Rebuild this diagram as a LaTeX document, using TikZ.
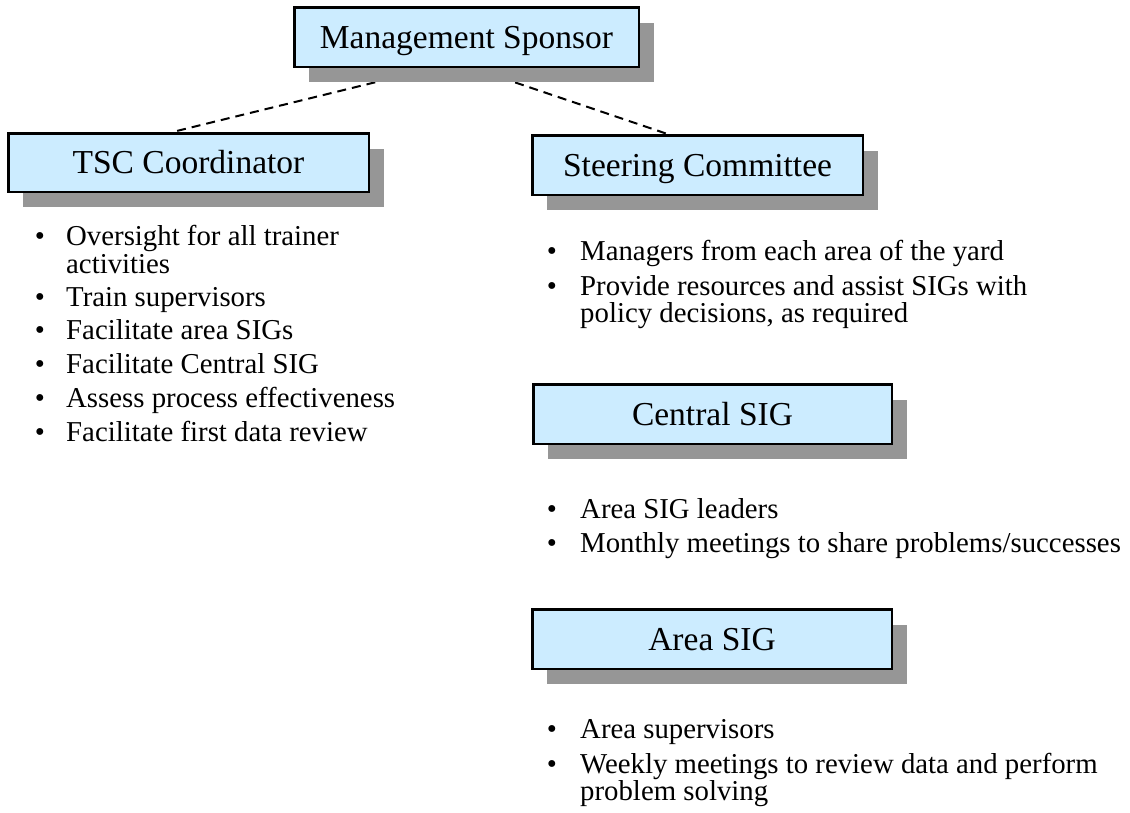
\documentclass[tikz,border=0pt]{standalone}
\usepackage{fontspec}
\setmainfont{Liberation Serif}
\usetikzlibrary{calc,shadows,backgrounds}
\definecolor{boxfill}{HTML}{CCECFF}
\definecolor{shadowgray}{HTML}{969696}
\begin{document}
\begin{tikzpicture}[x=1pt,y=-1pt,
  unitbox/.style={draw=black, line width=2.5pt, fill=boxfill, inner sep=0pt,
    font=\fontsize{33.5}{40}\selectfont, text height=22.2pt, text depth=0pt,
    drop shadow={shadow xshift=15pt, shadow yshift=-15.5pt, fill=shadowgray, opacity=1}},
  link/.style={line width=2pt, dash pattern=on 9pt off 6pt},
  dot/.style={anchor=base, inner sep=0pt, font=\fontsize{28.8}{28}\selectfont},
  itemtext/.style={anchor=base west, inner sep=0pt, font=\fontsize{28.8}{28}\selectfont}]
\useasboundingbox (0,0) rectangle (1130,812);

% organisation units
\node[unitbox, minimum width=344.5pt, minimum height=59.5pt] (ms) at (466.5,37) {Management Sponsor};
\node[unitbox, minimum width=360.5pt, minimum height=58.5pt] (tsc) at (188.5,162.5) {TSC Coordinator};
\node[unitbox, minimum width=330.5pt, minimum height=59.5pt] (sc) at (697.5,165) {Steering Committee};
\node[unitbox, minimum width=358.5pt, minimum height=59.5pt] (cs) at (712.5,414) {Central SIG};
\node[unitbox, minimum width=359.5pt, minimum height=59.5pt] (as) at (712,639) {Area SIG};

% reporting lines, kept behind boxes and shadows
\begin{scope}[on background layer]
  \draw[link] ($(ms.south)+(-33,0)$) -- ($(tsc.north)+(-16,0)$);
  \draw[link] ($(ms.south)+(6,0)$) -- ($(sc.north)+(-30,0)$);
\end{scope}

% TSC Coordinator duties
\node[dot] (tb1) at (40,245) {•};
\node[itemtext] (tt1) at (66,245) {Oversight for all trainer};
\node[itemtext] (tt1b) at (66,273) {activities};
\node[dot] (tb2) at (40,306) {•};
\node[itemtext] (tt2) at (66,306) {Train supervisors};
\node[dot] (tb3) at (40,339) {•};
\node[itemtext] (tt3) at (66,339) {Facilitate area SIGs};
\node[dot] (tb4) at (40,373) {•};
\node[itemtext] (tt4) at (66,373) {Facilitate Central SIG};
\node[dot] (tb5) at (40,407) {•};
\node[itemtext] (tt5) at (66,407) {Assess process effectiveness};
\node[dot] (tb6) at (40,441) {•};
\node[itemtext] (tt6) at (66,441) {Facilitate first data review};

% Steering Committee
\node[dot] (sb1) at (552,260) {•};
\node[itemtext] (st1) at (580,260) {Managers from each area of the yard};
\node[dot] (sb2) at (552,295) {•};
\node[itemtext] (st2) at (580,295) {Provide resources and assist SIGs with};
\node[itemtext] (st2b) at (580,322) {policy decisions, as required};

% Central SIG
\node[dot] (cb1) at (552,518) {•};
\node[itemtext] (ct1) at (580,518) {Area SIG leaders};
\node[dot] (cb2) at (552,552) {•};
\node[itemtext] (ct2) at (580,552) {Monthly meetings to share problems/successes};

% Area SIG
\node[dot] (ab1) at (552,738) {•};
\node[itemtext] (at1) at (580,738) {Area supervisors};
\node[dot] (ab2) at (552,773) {•};
\node[itemtext] (at2) at (580,773) {Weekly meetings to review data and perform};
\node[itemtext] (at2b) at (580,800) {problem solving};
\end{tikzpicture}
\end{document}
